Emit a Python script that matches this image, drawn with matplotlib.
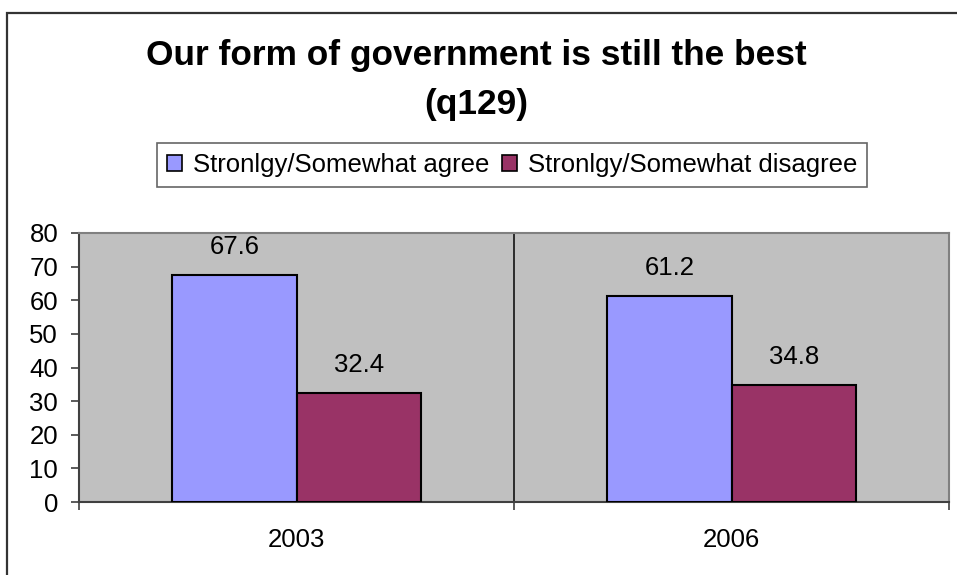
import matplotlib
matplotlib.use("Agg")
import matplotlib.pyplot as plt
from matplotlib.patches import Rectangle, Patch

plt.rcParams['font.family'] = ['Liberation Sans', 'DejaVu Sans']

# survey answers, percent
years = ["2003", "2006"]
agree = [67.6, 61.2]
disagree = [32.4, 34.8]
series_names = ["Stronlgy/Somewhat agree", "Stronlgy/Somewhat disagree"]
series_colors = ["#9999FF", "#993366"]

FS = 18.5

fig = plt.figure(figsize=(9.57, 5.75), dpi=100)
fig.patch.set_facecolor("white")

# outer chart frame (runs off the right and bottom edges)
fig.patches.append(Rectangle((7 / 957, -0.2), 1.2, 1 - 13 / 575 + 0.2,
                             transform=fig.transFigure, fill=False,
                             edgecolor="#333333", linewidth=1.6))

ax = fig.add_axes([79 / 957, 73 / 575, 870 / 957, 269 / 575])
ax.set_facecolor("#C0C0C0")

x = list(range(len(years)))
w = 1 / 3.5
b1 = ax.bar([i - w / 2 for i in x], agree, width=w, color=series_colors[0],
            edgecolor="black", linewidth=1.5, zorder=3)
b2 = ax.bar([i + w / 2 for i in x], disagree, width=w, color=series_colors[1],
            edgecolor="black", linewidth=1.5, zorder=3)

for bars, vals in ((b1, agree), (b2, disagree)):
    for r, v in zip(bars, vals):
        ax.annotate(f"{v:.1f}", (r.get_x() + r.get_width() / 2, v),
                    xytext=(0, 15), textcoords="offset points",
                    ha="center", va="baseline", fontsize=FS, zorder=4)

ax.set_xlim(-0.5, len(years) - 0.5)
ax.set_ylim(0, 80)
ax.set_yticks(range(0, 81, 10))

# category separators, labels sit between them
ax.set_xticks([i - 0.5 for i in range(len(years) + 1)])
ax.set_xticklabels([])
ax.set_xticks(x, minor=True)
ax.set_xticklabels(years, minor=True)
for i in range(1, len(years)):
    ax.axvline(i - 0.5, color="#202020", linewidth=1.3, zorder=2)

ax.tick_params(axis="y", direction="out", length=6, width=1.2,
               color="#404040", labelsize=FS, pad=9)
ax.tick_params(axis="x", which="major", direction="out", length=6, width=1.2,
               color="#404040")
ax.tick_params(axis="x", which="minor", length=0, labelsize=FS, pad=19)

for side in ("left", "bottom"):
    ax.spines[side].set_color("#404040")
    ax.spines[side].set_linewidth(1.5)
for side in ("top", "right"):
    ax.spines[side].set_color("#808080")
    ax.spines[side].set_linewidth(1.5)

fig.text(0.498, 1 - 65 / 575, "Our form of government is still the best",
         ha="center", va="baseline", fontsize=25.4, fontweight="bold")
fig.text(0.498, 1 - 114 / 575, "(q129)",
         ha="center", va="baseline", fontsize=25.4, fontweight="bold")

handles = [Patch(facecolor=c, edgecolor="black", linewidth=1.2) for c in series_colors]
leg = fig.legend(handles, series_names, loc="center", ncol=2,
                 bbox_to_anchor=(512 / 957, 1 - 165 / 575), fontsize=FS,
                 frameon=True, fancybox=False, shadow=False,
                 handlelength=0.6, handleheight=0.6, handletextpad=0.4,
                 columnspacing=0.5, borderpad=0.4, borderaxespad=0)
leg.get_frame().set_edgecolor("#404040")
leg.get_frame().set_linewidth(1.2)

fig.savefig("out.png", dpi=100, facecolor="white")
